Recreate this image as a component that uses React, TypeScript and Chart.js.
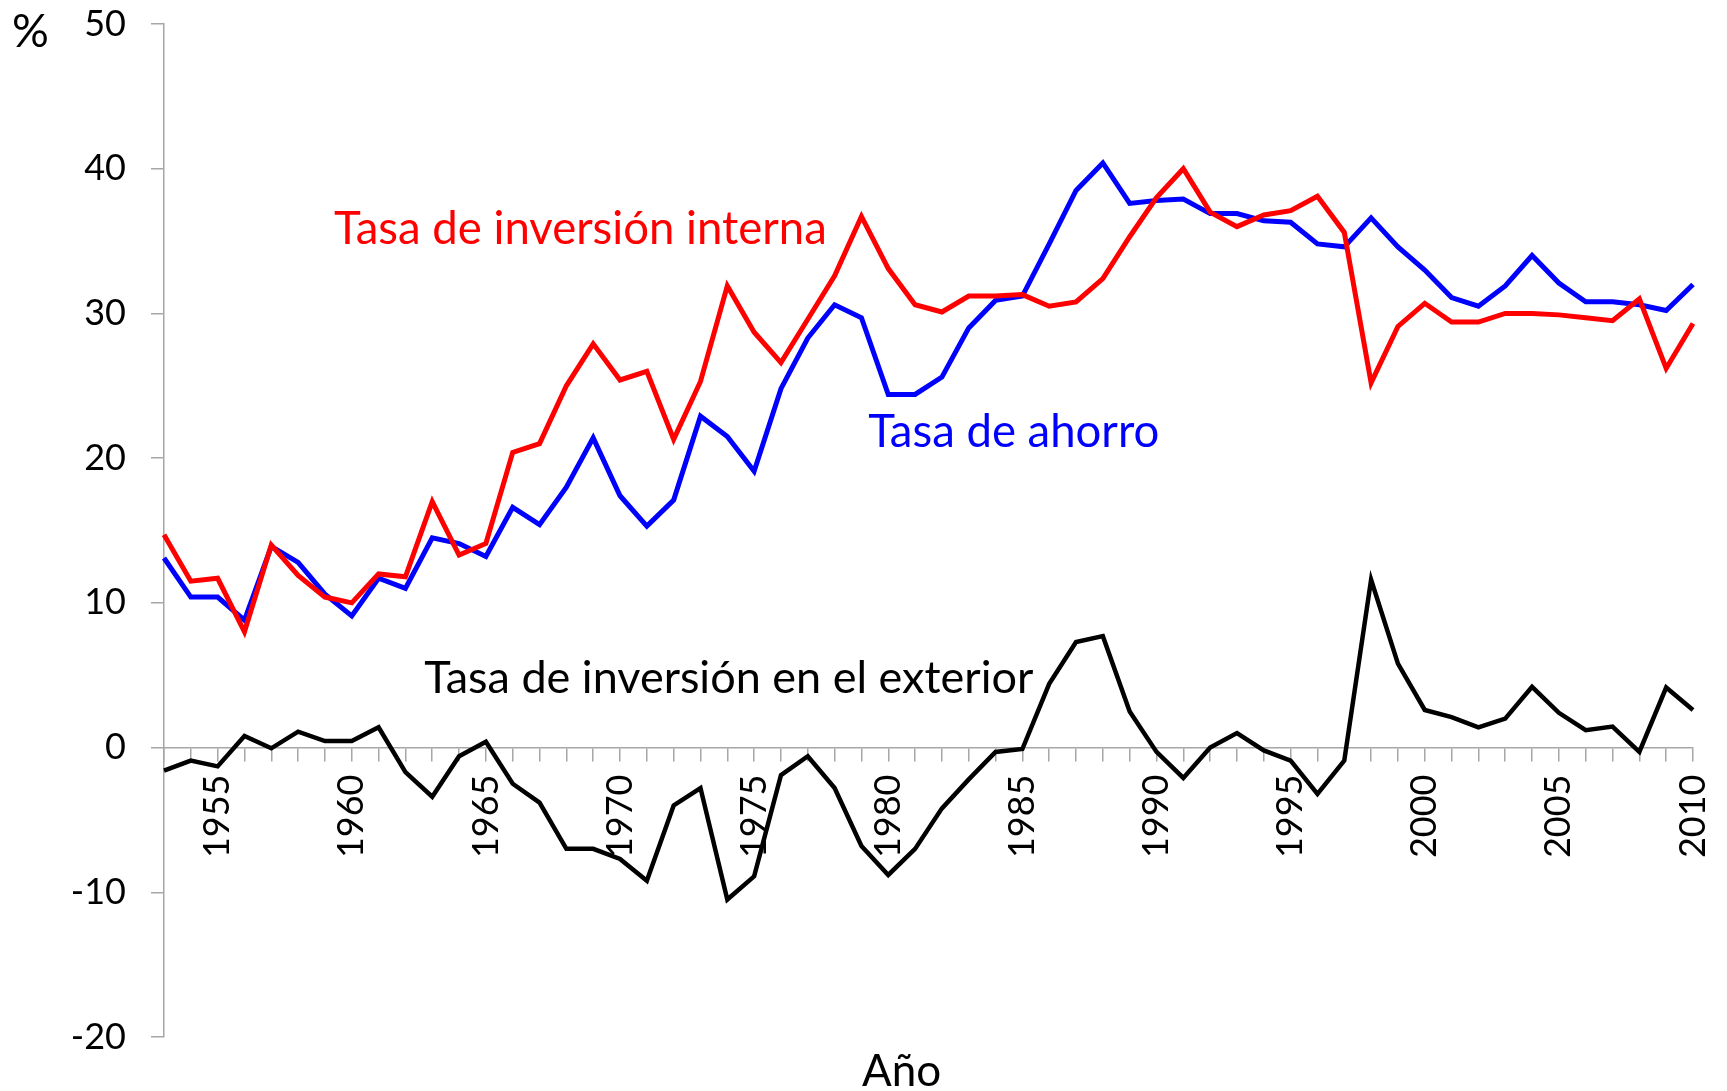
import React, { useEffect, useRef } from "react";
import { Chart, registerables } from "chart.js";

Chart.register(...registerables);

const years: string[] = [
  "1953","1954","1955","1956","1957","1958","1959","1960","1961","1962",
  "1963","1964","1965","1966","1967","1968","1969","1970","1971","1972",
  "1973","1974","1975","1976","1977","1978","1979","1980","1981","1982",
  "1983","1984","1985","1986","1987","1988","1989","1990","1991","1992",
  "1993","1994","1995","1996","1997","1998","1999","2000","2001","2002",
  "2003","2004","2005","2006","2007","2008","2009","2010",
];

// Tasa de inversión interna (red)
const inversionInterna: number[] = [
  14.7, 11.5, 11.7, 8.0, 14.0, 11.9, 10.4, 10.0, 12.0, 11.8,
  17.0, 13.3, 14.1, 20.4, 21.0, 25.0, 27.9, 25.4, 26.0, 21.3,
  25.3, 31.9, 28.7, 26.6, 29.6, 32.6, 36.7, 33.1, 30.6, 30.1,
  31.2, 31.2, 31.3, 30.5, 30.8, 32.4, 35.3, 38.0, 40.0, 37.0,
  36.0, 36.8, 37.1, 38.1, 35.6, 25.2, 29.1, 30.7, 29.4, 29.4,
  30.0, 30.0, 29.9, 29.7, 29.5, 31.0, 26.2, 29.3,
];

// Tasa de ahorro (blue)
const ahorro: number[] = [
  13.1, 10.4, 10.4, 8.8, 13.9, 12.8, 10.6, 9.1, 11.7, 11.0,
  14.5, 14.1, 13.2, 16.6, 15.4, 18.0, 21.4, 17.4, 15.3, 17.1,
  22.9, 21.5, 19.1, 24.8, 28.3, 30.6, 29.7, 24.4, 24.4, 25.6,
  29.0, 30.9, 31.2, 34.8, 38.5, 40.4, 37.6, 37.8, 37.9, 36.9,
  36.9, 36.4, 36.3, 34.8, 34.6, 36.6, 34.6, 33.0, 31.1, 30.5,
  31.9, 34.0, 32.1, 30.8, 30.8, 30.6, 30.2, 32.0,
];

// Tasa de inversión en el exterior (black)
const inversionExterior: number[] = [
  -1.6, -0.9, -1.3, 0.8, -0.05, 1.1, 0.45, 0.45, 1.4, -1.7,
  -3.4, -0.6, 0.4, -2.5, -3.8, -7.0, -7.0, -7.7, -9.2, -4.0,
  -2.8, -10.5, -8.9, -1.9, -0.6, -2.8, -6.8, -8.8, -7.0, -4.2,
  -2.2, -0.3, -0.1, 4.4, 7.3, 7.7, 2.5, -0.3, -2.1, 0.0,
  1.0, -0.2, -0.9, -3.2, -0.9, 11.6, 5.8, 2.6, 2.1, 1.4,
  2.0, 4.2, 2.4, 1.2, 1.45, -0.3, 4.15, 2.6,
];

const yTicks: number[] = [-20, -10, 0, 10, 20, 30, 40, 50];

// Text annotations: x in year-index units, y in value units
const annotations = [
  { text: "Tasa de inversión interna", x: 6.34, y: 34.8, color: "#ff0000", size: 45.5, align: "left" },
  { text: "Tasa de ahorro", x: 26.25, y: 20.77, color: "#0000ff", size: 45.5, align: "left" },
  { text: "Tasa de inversión en el exterior", x: 9.7, y: 3.8, color: "#000000", size: 45, align: "left" },
];

const FONT = "Lato, 'Open Sans', sans-serif";

const labelPlugin = {
  id: "textLabels",
  afterDraw(chart: any) {
    const ctx = chart.ctx;
    const xs = chart.scales.x;
    const ys = chart.scales.y;
    ctx.save();
    ctx.textBaseline = "alphabetic";
    for (const a of annotations) {
      ctx.font = `${a.size}px ${FONT}`;
      ctx.fillStyle = a.color;
      ctx.textAlign = a.align;
      ctx.fillText(a.text, xs.getPixelForValue(a.x), ys.getPixelForValue(a.y));
    }
    // axis titles
    ctx.fillStyle = "#000000";
    ctx.font = `46px ${FONT}`;
    ctx.textAlign = "left";
    ctx.fillText("%", 12, 47);
    ctx.font = `44px ${FONT}`;
    ctx.textAlign = "center";
    ctx.fillText("Año", xs.getPixelForValue(27.5), 1086);
    ctx.restore();
  },
};

export default function App() {
  const canvasRef = useRef<HTMLCanvasElement | null>(null);

  useEffect(() => {
    let chart: Chart | null = null;
    let cancelled = false;
    const make = () => {
      if (cancelled || !canvasRef.current) return;
      chart = new Chart(canvasRef.current, {
        type: "line",
        data: {
          labels: years,
          datasets: [
            { label: "Tasa de inversión interna", data: inversionInterna, borderColor: "#ff0000", borderWidth: 5, pointRadius: 0, tension: 0, fill: false },
            { label: "Tasa de ahorro", data: ahorro, borderColor: "#0000ff", borderWidth: 5, pointRadius: 0, tension: 0, fill: false },
            { label: "Tasa de inversión en el exterior", data: inversionExterior, borderColor: "#000000", borderWidth: 4.5, pointRadius: 0, tension: 0, fill: false },
          ],
        },
        options: {
          responsive: false,
          animation: false,
          devicePixelRatio: 1,
          layout: { padding: { left: 0, right: 34, top: 24, bottom: 54 } },
          plugins: { legend: { display: false }, tooltip: { enabled: false } },
          scales: {
            x: {
              type: "category",
              position: { y: 0 } as any,
              offset: false,
              afterFit: (s: any) => { s.height = 0; s.paddingLeft = 0; s.paddingRight = 0; },
              grid: { drawOnChartArea: false, drawTicks: true, tickLength: 13, color: "#a6a6a6", lineWidth: 1.5 },
              border: { display: true, color: "#a6a6a6", width: 1.5 },
              ticks: {
                autoSkip: false,
                minRotation: 90,
                maxRotation: 90,
                padding: 14,
                color: "#000000",
                font: { family: FONT, size: 36 },
                callback: function (this: any, value: any) {
                  const lbl = this.getLabelForValue(value);
                  return Number(lbl) % 5 === 0 ? lbl : "";
                },
              },
            },
            y: {
              min: -20,
              max: 50,
              afterFit: (s: any) => { s.width = 164; s.paddingTop = 0; s.paddingBottom = 0; },
              afterBuildTicks: (s: any) => { s.ticks = yTicks.map((v) => ({ value: v })); },
              grid: { drawOnChartArea: false, drawTicks: true, tickLength: 13, color: "#a6a6a6", lineWidth: 1.5 },
              border: { display: true, color: "#a6a6a6", width: 1.5 },
              ticks: { padding: 25, color: "#000000", font: { family: FONT, size: 36 } },
            },
          },
        },
        plugins: [labelPlugin],
      });
    };
    const fonts = (document as any).fonts;
    if (fonts && fonts.load) {
      Promise.all([fonts.load(`36px Lato`), fonts.load(`44px Lato`)]).then(make, make);
    } else {
      make();
    }
    return () => {
      cancelled = true;
      if (chart) chart.destroy();
    };
  }, []);

  return (
    <div style={{ position: "fixed", left: 0, top: 0, width: 1727, height: 1091, background: "#ffffff" }}>
      <canvas ref={canvasRef} width={1727} height={1091} style={{ display: "block" }} />
    </div>
  );
}
